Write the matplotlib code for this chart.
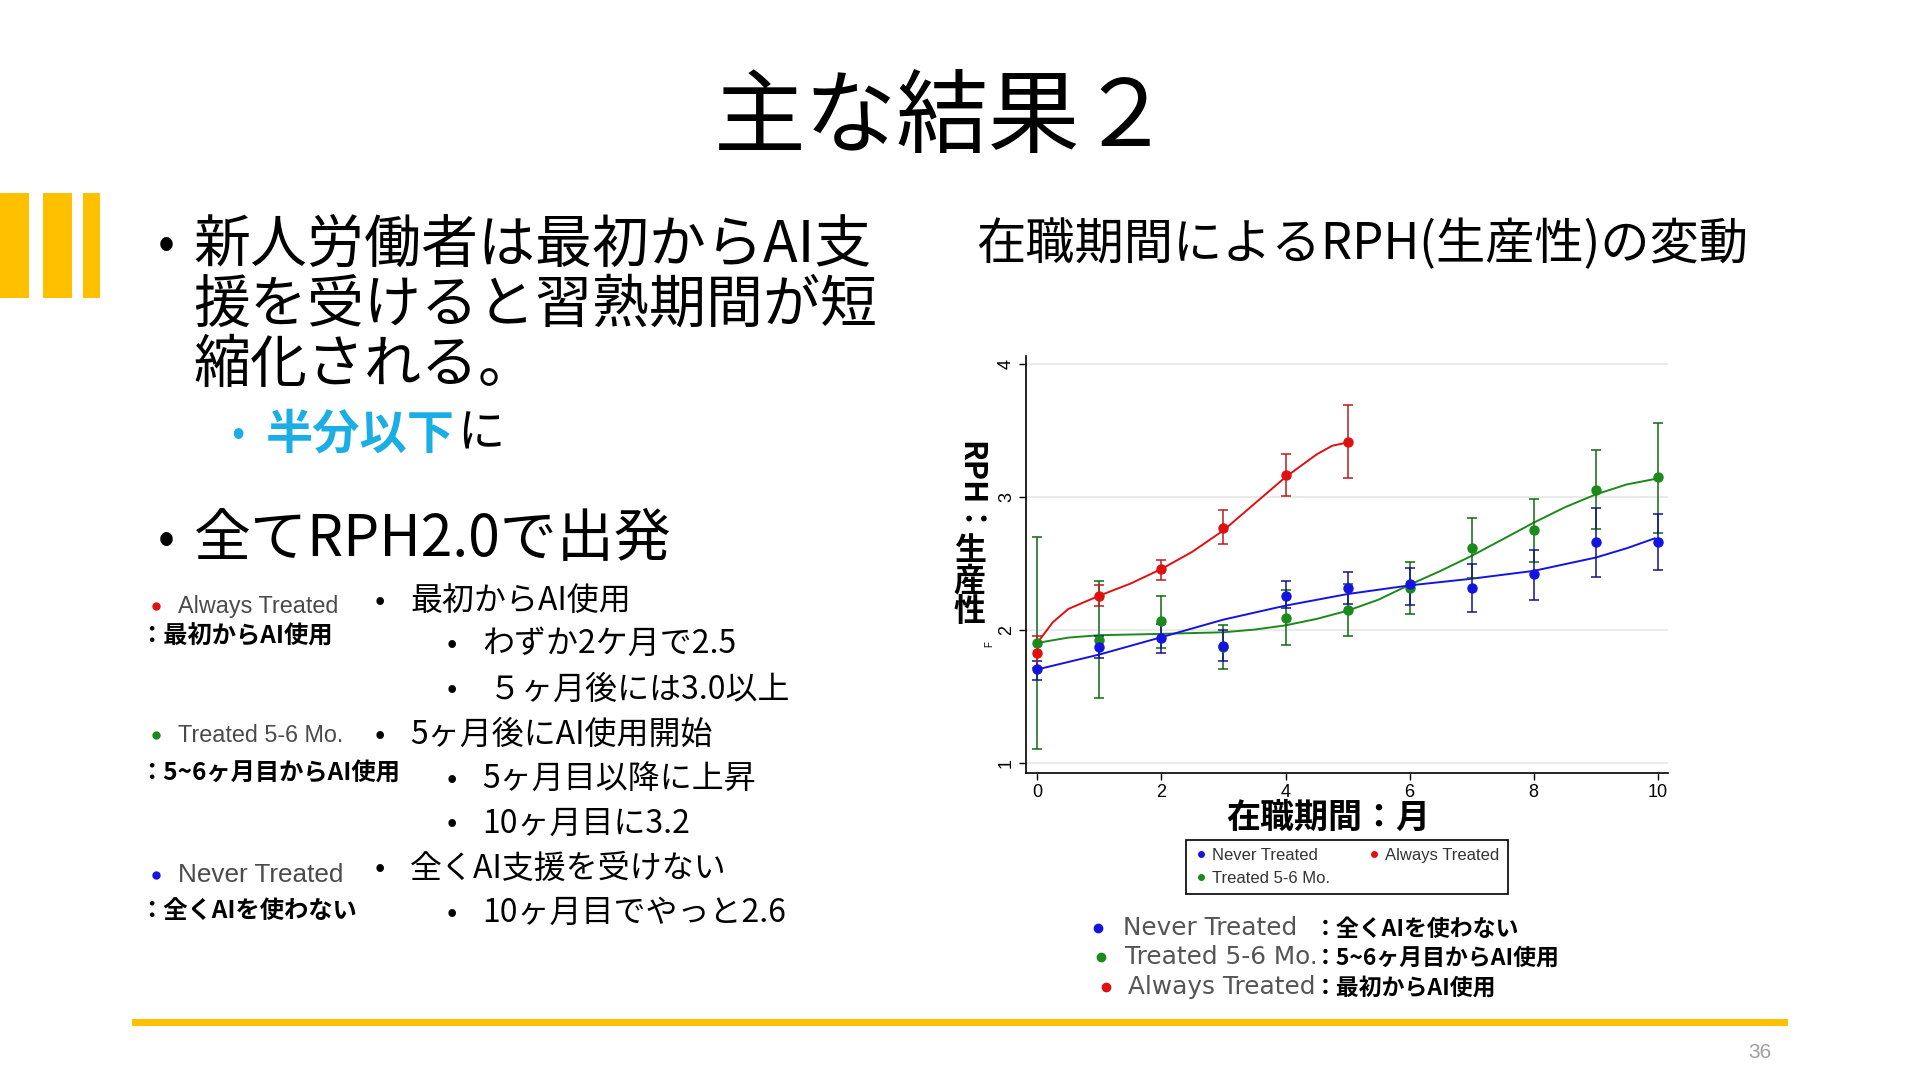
import matplotlib
matplotlib.use("Agg")
import matplotlib.pyplot as plt
from matplotlib.lines import Line2D
from matplotlib.patches import Rectangle

plt.rcParams['font.family'] = ['Noto Sans CJK JP', 'DejaVu Sans']

# ---- data ----
months = [0, 1, 2, 3, 4, 5, 6, 7, 8, 9, 10]
never_mean = [1.71, 1.875, 1.94, 1.88, 2.26, 2.32, 2.35, 2.32, 2.42, 2.66, 2.66]
never_lo = [1.63, 1.79, 1.83, 1.77, 2.17, 2.20, 2.19, 2.14, 2.23, 2.40, 2.45]
never_hi = [1.77, 1.96, 2.05, 2.00, 2.37, 2.44, 2.47, 2.50, 2.60, 2.92, 2.87]

treated_mean = [1.905, 1.93, 2.07, 1.875, 2.09, 2.155, 2.32, 2.615, 2.75, 3.05, 3.15]
treated_lo = [1.11, 1.49, 1.87, 1.71, 1.89, 1.96, 2.12, 2.39, 2.51, 2.76, 2.73]
treated_hi = [2.70, 2.37, 2.26, 2.04, 2.30, 2.35, 2.51, 2.845, 2.985, 3.35, 3.56]

always_months = [0, 1, 2, 3, 4, 5]
always_mean = [1.83, 2.255, 2.46, 2.77, 3.165, 3.415]
always_lo = [1.72, 2.18, 2.38, 2.65, 3.01, 3.145]
always_hi = [1.955, 2.34, 2.53, 2.90, 3.32, 3.69]

# fitted curves
never_fit_x = [0, 1, 2, 3, 4, 5, 6, 7, 8, 9, 9.5, 9.95]
never_fit = [1.706, 1.818, 1.948, 2.08, 2.185, 2.272, 2.337, 2.387, 2.446, 2.546, 2.616, 2.69]
treated_fit_x = [0, 0.5, 1, 2, 3, 3.5, 4, 4.5, 5, 5.5, 6, 6.5, 7, 7.5, 8, 8.5, 9, 9.5, 10]
treated_fit = [1.905, 1.945, 1.963, 1.973, 1.985, 2.005, 2.037, 2.085, 2.147, 2.23, 2.342,
               2.446, 2.559, 2.683, 2.808, 2.923, 3.02, 3.095, 3.14]
always_fit_x = [0, 0.25, 0.5, 1, 1.5, 2, 2.5, 3, 3.5, 4, 4.5, 4.75, 5]
always_fit = [1.905, 2.06, 2.16, 2.26, 2.35, 2.46, 2.59, 2.75, 2.95, 3.15, 3.32, 3.385, 3.41]

series_labels = ["Never Treated", "Treated 5-6 Mo.", "Always Treated"]
series_notes = ["：全くAIを使わない", "：5~6ヶ月目からAI使用", "：最初からAI使用"]

yellow = "#FFC000"
c_blue, c_green, c_red = "#1414E0", "#1B8A1B", "#E01010"
e_blue, e_green, e_red = "#14148C", "#0E6A0E", "#B81E1E"
latin = ['Liberation Sans', 'DejaVu Sans']

W, H = 1568, 880
fig = plt.figure(figsize=(19.2, 10.8), dpi=100)

# full-slide layer in slide pixel coordinates
bg = fig.add_axes([0, 0, 1, 1])
bg.set_xlim(0, W)
bg.set_ylim(H, 0)
bg.axis('off')

# title
bg.text(770, 98, "主な結果２", fontsize=66, ha='center', va='center', color='black')

# decorative bars and bottom rule
for x0, x1 in [(0, 24), (35, 59), (68, 82)]:
    bg.add_patch(Rectangle((x0, 157), x1 - x0, 86, color=yellow, lw=0))
bg.add_patch(Rectangle((108, 830), 1352, 6, color=yellow, lw=0))
bg.text(1437, 858, "36", fontsize=15, color="#A0A0A0", ha='center', va='center', family=latin)

# main bullets
bg.text(136, 200, "•", fontsize=36, ha='center', va='center')
for y, s in [(200, "新人労働者は最初からAI支"), (249, "援を受けると習熟期間が短"), (298, "縮化される。")]:
    bg.text(158, y, s, fontsize=41, ha='left', va='center')
bg.text(194, 354, "•", fontsize=28, ha='center', va='center', color="#1AAEE5")
t = bg.text(217, 354, "半分以下", fontsize=34, fontweight='bold', color="#1AAEE5",
            ha='left', va='center')
fig.canvas.draw()
ext = t.get_window_extent().transformed(bg.transData.inverted())
bg.text(ext.x1 + 2, 354, "に", fontsize=34, ha='left', va='center')
bg.text(136, 440, "•", fontsize=36, ha='center', va='center')
bg.text(158, 440, "全てRPH2.0で出発", fontsize=41, ha='left', va='center')

# left notes
note_rows = [("Always Treated", 494, c_red, "：最初からAI使用", 519, 16.8),
             ("Treated 5-6 Mo.", 599, c_green, "：5~6ヶ月目からAI使用", 630, 16.8),
             ("Never Treated", 713, c_blue, "：全くAIを使わない", 742, 18.8)]
for lab, y, col, note, ny, fs in note_rows:
    bg.plot([127], [y], marker='o', ms=5, color=col, ls='none')
    bg.text(145, y, lab, fontsize=fs, color="#4A4A4A", ha='left', va='center', family=latin)
    bg.text(114, ny, note, fontsize=17.5, fontweight='bold', ha='left', va='center')

# middle bullets
mid = [(0, 490, "最初からAI使用"), (1, 525, "わずか2ケ月で2.5"), (1, 562, " ５ヶ月後には3.0以上"),
       (0, 599, "5ヶ月後にAI使用開始"), (1, 635, "5ヶ月目以降に上昇"), (1, 671, "10ヶ月目に3.2"),
       (0, 708, "全くAI支援を受けない"), (1, 744, "10ヶ月目でやっと2.6")]
for lvl, y, s in mid:
    bx = 310 if lvl == 0 else 369
    bg.text(bx, y, "•", fontsize=22, ha='center', va='center')
    bg.text(bx + 25, y, s, fontsize=23, ha='left', va='center')

# chart title
bg.text(797, 200, "在職期間によるRPH(生産性)の変動", fontsize=35.5, ha='left', va='center')

# ---- the chart ----
ax = fig.add_axes([838 / W, 1 - 630 / H, 524 / W, 340 / H])
ax.set_xlim(-0.18, 10.16)
ax.set_ylim(0.927, 4.06)
for y in [1, 2, 3, 4]:
    ax.axhline(y, color="#E6E6E6", lw=1.2, zorder=0)


def draw(xs, mean, lo, hi, fx, fy, col, ecol):
    ax.plot(fx, fy, color=col, lw=1.4, zorder=2)
    yerr = [[m - l for m, l in zip(mean, lo)], [h - m for m, h in zip(mean, hi)]]
    ax.errorbar(xs, mean, yerr=yerr, fmt='none', ecolor=ecol, elinewidth=1.1,
                capsize=3.5, capthick=1.1, zorder=3)
    ax.plot(xs, mean, 'o', color=col, ms=6.5, zorder=4)


draw(months, treated_mean, treated_lo, treated_hi, treated_fit_x, treated_fit, c_green, e_green)
draw(months, never_mean, never_lo, never_hi, never_fit_x, never_fit, c_blue, e_blue)
draw(always_months, always_mean, always_lo, always_hi, always_fit_x, always_fit, c_red, e_red)

for s in ['top', 'right']:
    ax.spines[s].set_visible(False)
for s in ['left', 'bottom']:
    ax.spines[s].set_linewidth(1.2)
ax.set_xticks([0, 2, 4, 6, 8, 10])
ax.set_yticks([1, 2, 3, 4])
ax.tick_params(axis='both', length=5, width=1, labelsize=13, pad=3)
for lab in ax.get_yticklabels():
    lab.set_rotation(90)
    lab.set_va('center')
    lab.set_family(latin)
for lab in ax.get_xticklabels():
    lab.set_family(latin)

# axis titles
bg.text(1085, 666, "在職期間：月", fontsize=24.5, fontweight='bold', ha='center', va='center')
bg.text(792, 398, "RPH：", fontsize=22, fontweight='bold', rotation=-90, ha='center', va='center')
for y, ch in [(449, "生"), (474, "産"), (499, "性")]:
    bg.text(792, y, ch, fontsize=23, fontweight='bold', ha='center', va='center')
bg.text(808, 525, "F", fontsize=7, rotation=90, ha='center', va='center', family=latin)

# legend under the plot
handles = [Line2D([], [], marker='o', ls='none', color=c, ms=4) for c in (c_blue, c_green, c_red)]
leg = ax.legend(handles, series_labels, ncol=2, loc='upper center',
                bbox_to_anchor=(0.5, -0.14), frameon=True, fancybox=False,
                edgecolor='black', framealpha=1, handletextpad=0.3,
                columnspacing=2.2, handlelength=0.8, borderpad=0.5, labelspacing=0.45,
                prop={'family': latin, 'size': 12})
leg.get_frame().set_linewidth(1.2)
for txt in leg.get_texts():
    txt.set_color("#333333")

# key lines below
key_y = [756, 780, 804]
key_dot_x = [897, 899, 903]
key_text_x = [917, 919, 921]
for i, (lab, note, col) in enumerate(zip(series_labels, series_notes,
                                         (c_blue, c_green, c_red))):
    bg.plot([key_dot_x[i]], [key_y[i]], marker='o', ms=6, color=col, ls='none')
    bg.text(key_text_x[i], key_y[i], lab, fontsize=17.8, color="#555555", ha='left',
            va='center', family=['DejaVu Sans'])
    bg.text(1073, key_y[i] + 1, note, fontsize=16.5, fontweight='bold', ha='left', va='center')

fig.savefig("out.png", dpi=100)
